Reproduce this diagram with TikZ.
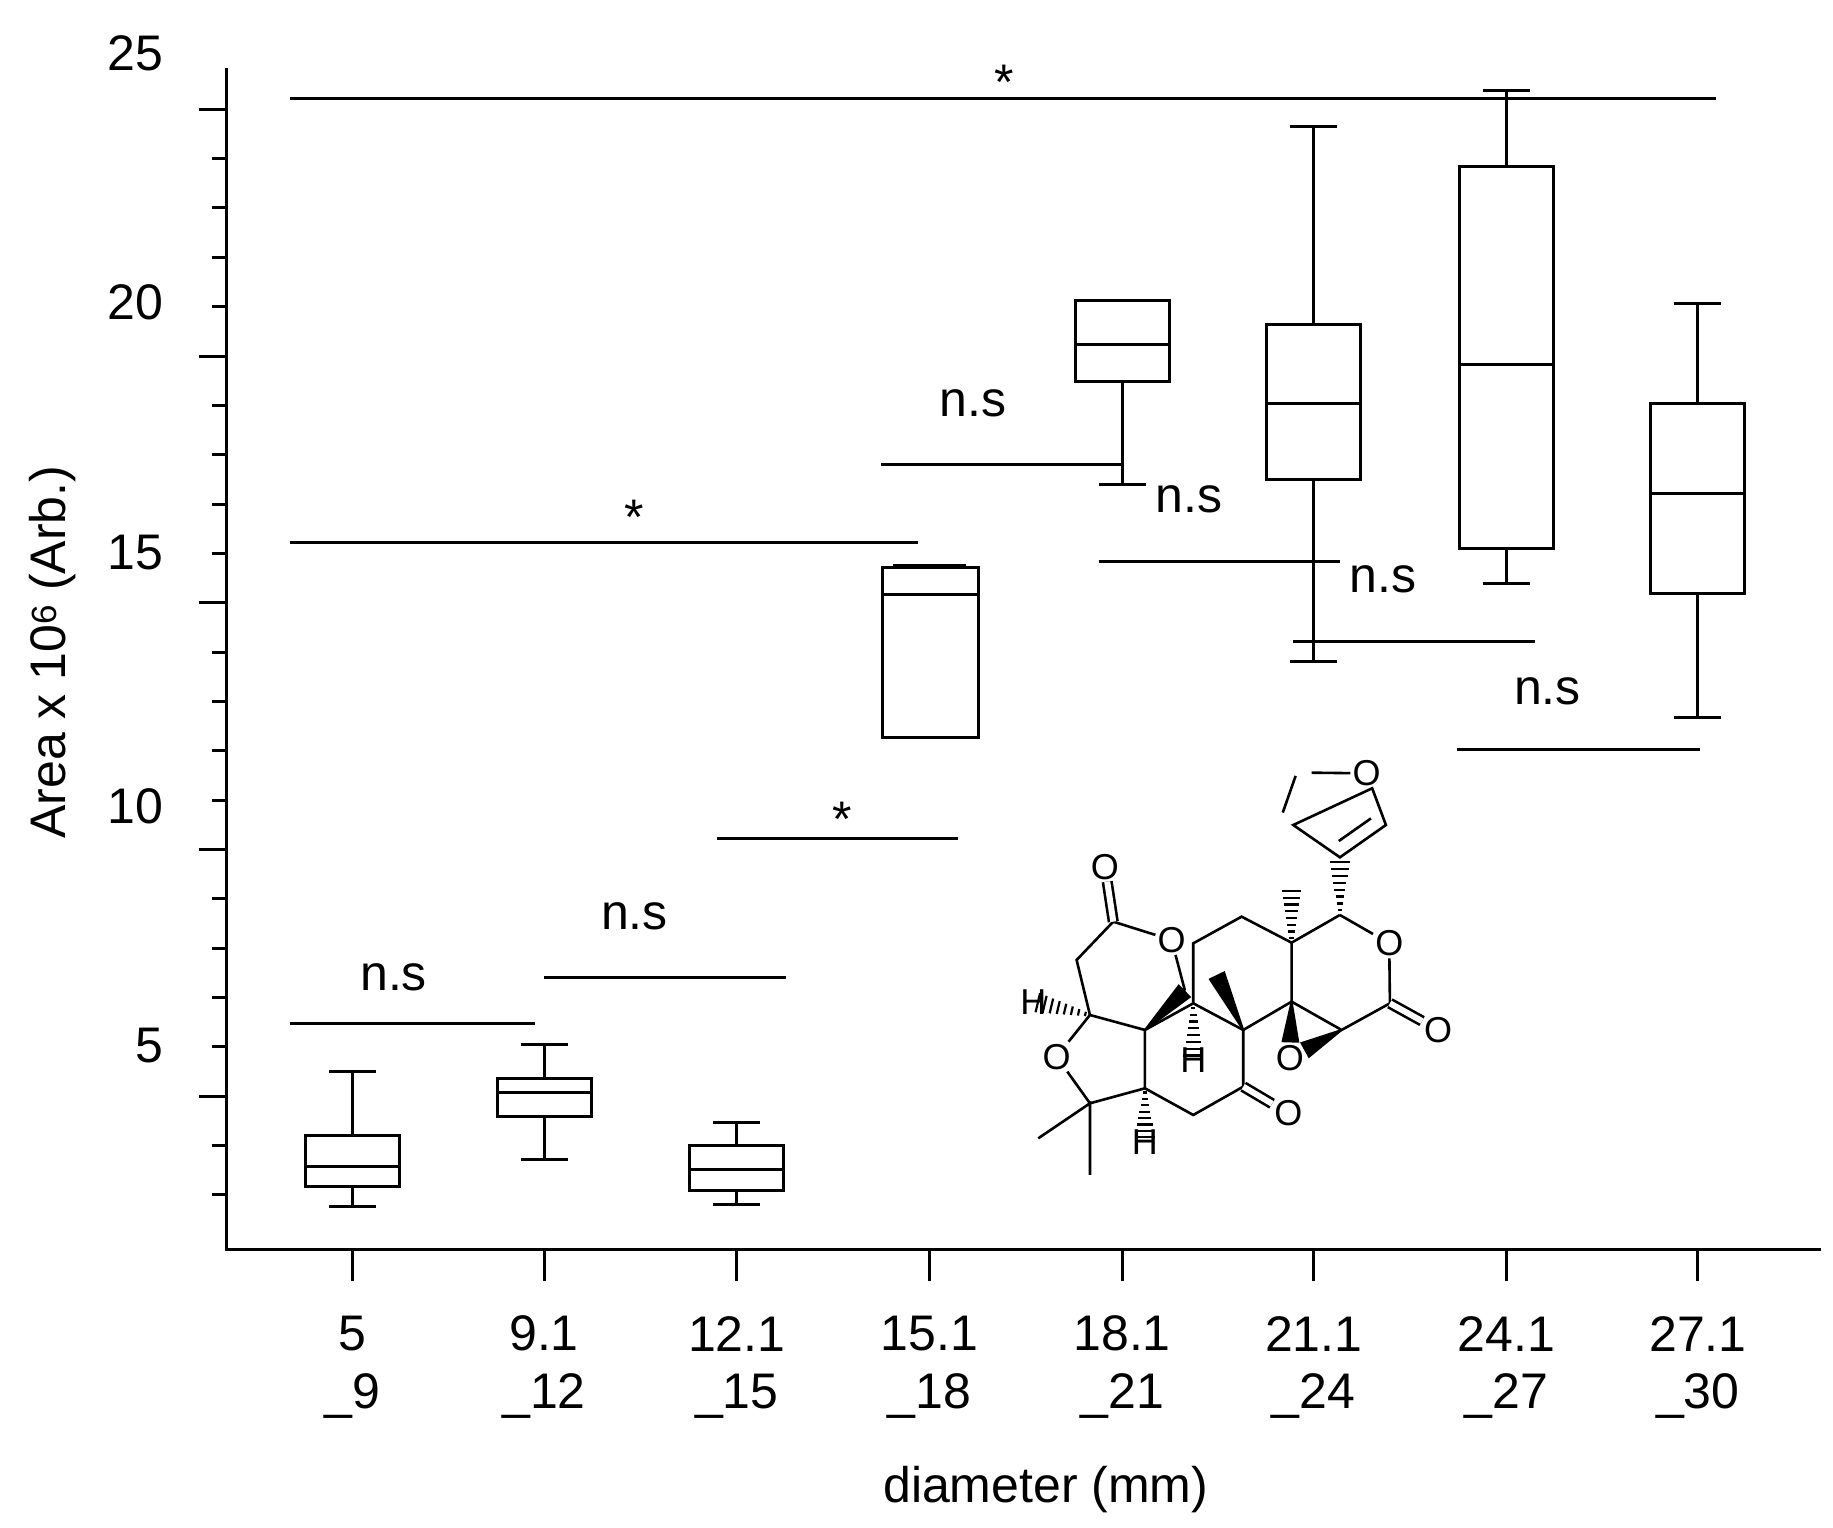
\documentclass[tikz,border=0pt]{standalone}
\usepackage{fontspec}
\setmainfont{Liberation Sans}
\usetikzlibrary{calc}
\tikzset{
  ln/.style={line width=3pt},
  lbl/.style={font=\fontsize{50}{58}\selectfont},
  atom/.style={font=\fontsize{36}{40}\selectfont,inner sep=2pt},
  bd/.style={line width=2.6pt},
  dbl/.style={line width=2.6pt,double,double distance=6pt}
}
\newcommand{\hashb}[2]{%
  \foreach \t in {0.08,0.2,...,0.95}{%
    \pgfmathsetmacro\w{1.5+\t*9}%
    \draw[line width=2.2pt] ($($(#1)!\t!(#2)$)!\w pt!90:(#2)$) -- ($($(#1)!\t!(#2)$)!\w pt!-90:(#2)$);}}
\newcommand{\wedgeb}[2]{%
  \fill ($(#1)!1pt!90:(#2)$) -- ($(#1)!1pt!-90:(#2)$) -- ($(#2)!9pt!90:(#1)$) -- ($(#2)!9pt!-90:(#1)$) -- cycle;}
\begin{document}
\begin{tikzpicture}[x=1.175pt,y=-1.175pt]
\useasboundingbox (0,0) rectangle (1560,1300);
% axes
\draw[ln] (193,58) -- (193,1063) -- (1550,1063);
\foreach \k in {0,...,22}{
  \pgfmathsetmacro\yy{93+42*\k}
  \pgfmathtruncatemacro\m{mod(\k,5)}
  \ifnum\m=0 \draw[ln] (169,\yy) -- (193,\yy); \else \draw[ln] (180,\yy) -- (193,\yy); \fi}
\foreach \v/\yy in {25/45,20/257,15/470,10/686,5/890}
  \node[lbl,anchor=east] (yl\v) at (142,\yy) {\v};
\node[lbl,rotate=90] (ylab) at (45,555) {Area x 10\textsuperscript{6} (Arb.)};
\foreach \xx/\a/\b [count=\i] in {300/5/9,463/9.1/12,627/12.1/15,791/15.1/18,955/18.1/21,1118/21.1/24,1282/24.1/27,1445/27.1/30}{
  \draw[ln] (\xx,1063) -- (\xx,1090);
  \node[lbl] (xa\i) at (\xx,1135) {\a};
  \node[lbl] (xb\i) at (\xx,1188) {\_\b};}
\node[lbl] (xlab) at (890,1268) {diameter (mm)};
% boxes: x, cap top, top, median, bottom, cap bottom
\foreach \xx/\ct/\tp/\md/\bt/\cb in {300/912/966/993/1010/1027,463/889/918/930/950/987,627/955/975/995/1013/1025,955/256/256/293/325/412,1118/108/276/343/408/563,1282/77/142/310/467/497,1445/258/343/420/505/611}{
  \draw[ln] (\xx-40,\tp) rectangle (\xx+40,\bt);
  \draw[ln] (\xx-40,\md) -- (\xx+40,\md);
  \draw[ln] (\xx,\ct) -- (\xx,\tp) (\xx,\bt) -- (\xx,\cb);
  \draw[ln] (\xx-20,\ct) -- (\xx+20,\ct) (\xx-20,\cb) -- (\xx+20,\cb);}
\draw[ln] (751,483) rectangle (833,628);
\draw[ln] (751,506) -- (833,506);
\draw[ln] (760,481) -- (822,481);
% significance
\draw[ln] (247,84) -- (1460,84);   \node[lbl] (s1) at (855,70) {*};
\draw[ln] (247,462) -- (781,462);  \node[lbl] (s2) at (540,440) {*};
\draw[ln] (750,395) -- (955,395);  \node[lbl] (s3) at (828,343) {n.s};
\draw[ln] (935,478) -- (1140,478); \node[lbl] (s4) at (1012,425) {n.s};
\draw[ln] (1100,546) -- (1306,546);\node[lbl] (s5) at (1177,493) {n.s};
\draw[ln] (1240,638) -- (1447,638);\node[lbl] (s6) at (1317,588) {n.s};
\draw[ln] (610,714) -- (815,714);  \node[lbl] (s7) at (717,697) {*};
\draw[ln] (463,832) -- (669,832);  \node[lbl] (s8) at (540,780) {n.s};
\draw[ln] (247,871) -- (455,871);  \node[lbl] (s9) at (335,832) {n.s};
% molecule
\begin{scope}[shift={(834,638.3)},x=0.3333pt,y=-0.3333pt]
\coordinate (f1) at (995,68); \node[atom] (fO) at (1160,70) {O};
\coordinate (f3) at (1218,225); \coordinate (f4) at (1080,322); \coordinate (f5) at (940,225);
\coordinate (c17) at (1080,495); \node[atom] (oR) at (1228,580) {O};
\coordinate (c16) at (1230,760); \node[atom] (oC16) at (1375,840) {O};
\coordinate (c15) at (1085,840); \coordinate (c14) at (935,755);
\node[atom] (oE) at (930,925) {O};
\coordinate (c13) at (935,578); \coordinate (me13) at (935,410);
\coordinate (c12) at (785,500); \coordinate (c11) at (640,580);
\coordinate (c9) at (640,760); \coordinate (c8) at (790,840); \coordinate (me8) at (710,675);
\coordinate (c7) at (790,1010); \node[atom] (oC7) at (925,1090) {O};
\coordinate (c6) at (640,1095); \coordinate (c5) at (495,1015);
\node[atom] (h5) at (495,1175) {H}; \coordinate (c10) at (495,840);
\coordinate (c19) at (615,722); \node[atom] (oL) at (575,570) {O};
\coordinate (c3) at (400,515); \node[atom] (oC3) at (375,350) {O};
\coordinate (c2) at (290,630); \coordinate (c1) at (330,795);
\node[atom] (h1) at (160,755) {H}; \node[atom] (oF) at (230,920) {O};
\coordinate (c4) at (330,1060); \coordinate (me4a) at (175,1165); \coordinate (me4b) at (330,1275);
\node[atom] (h9) at (640,930) {H};
\draw[bd] (f1) -- (fO) -- (f3) -- (f4) -- (f5) -- cycle;
\draw[bd] ($(f1)!0.15!(f5)!14pt!-90:(f5)$) -- ($(f1)!0.85!(f5)!14pt!-90:(f5)$);
\draw[bd] ($(f3)!0.15!(f4)!14pt!-90:(f4)$) -- ($(f3)!0.85!(f4)!14pt!-90:(f4)$);
\draw[bd] (c17) -- (oR) -- (c16) -- (c15) -- (c14) -- (c13) -- (c17);
\draw[bd] (c13) -- (c12) -- (c11) -- (c9) -- (c8) -- (c14);
\draw[bd] (c8) -- (c7) -- (c6) -- (c5) -- (c10) -- (c9);
\draw[bd] (c10) -- (c1) -- (c2) -- (c3) -- (oL) -- (c19);
\draw[bd] (c1) -- (oF) -- (c4) -- (c5);
\draw[bd] (me4a) -- (c4) -- (me4b);
\draw[dbl] (c16) -- (oC16);
\draw[dbl] (c7) -- (oC7);
\draw[dbl] (c3) -- (oC3);
\hashb{c17}{f4}
\hashb{c13}{me13}
\hashb{c9}{h9}
\hashb{c5}{h5}
\hashb{c1}{h1}
\wedgeb{c8}{me8}
\wedgeb{c10}{c19}
\coordinate (e1) at ($(c14)!0.72!(oE)$);
\coordinate (e2) at ($(c15)!0.72!(oE)$);
\wedgeb{c14}{e1}
\wedgeb{c15}{e2}
\end{scope}
\end{tikzpicture}
\end{document}
